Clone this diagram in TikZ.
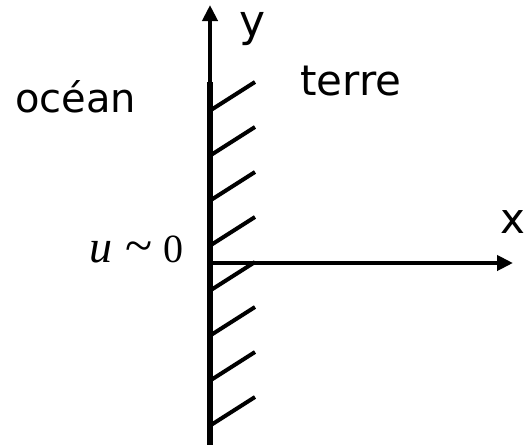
\documentclass[tikz,border=0pt]{standalone}
\usepackage{fontspec}
\setmainfont{DejaVu Sans}
\newfontfamily\serifmath{Liberation Serif}
\usetikzlibrary{arrows.meta}
\begin{document}
\begin{tikzpicture}[x=1pt,y=-1pt,
  lbl/.style={inner sep=0pt,font=\fontsize{40}{44}\selectfont},
  axis/.style={line width=4pt,-{Triangle[length=16pt,width=15pt]}},
  wall/.style={line width=6.5pt},
  hatch/.style={line width=4pt}]
\useasboundingbox (0,0) rectangle (525,445);
\coordinate (o) at (210,263);
\coordinate (wtop) at (210,82);
\coordinate (wbot) at (210,445);
\coordinate (ytip) at (210,5);
\coordinate (xtip) at (513,263);
\draw[wall] (wtop) -- (wbot);
\draw[axis] (wtop) -- (ytip);
\draw[axis] (208,263) -- (xtip);
\foreach \y in {110,155,200,245,290,335,380,425}{
  \draw[hatch] (211,\y) -- (255,\y-28);
}
\node[lbl,anchor=base west] (ocean) at (15,112) {océan};
\node[lbl,anchor=base west,font=\fontsize{42}{46}\selectfont] (terre) at (300,95) {terre};
\node[lbl,anchor=base west,font=\fontsize{44}{48}\selectfont] (ylab) at (239,36) {y};
\node[lbl,anchor=base west,font=\fontsize{42}{46}\selectfont] (xlab) at (500,233) {x};
\node[lbl,anchor=base east,font=\serifmath\fontsize{40}{44}\selectfont] (u0) at (184,262) {{\fontsize{46}{50}\selectfont\textit{u}}\hspace{13pt}{\fontsize{50}{54}\selectfont\textasciitilde}\hspace{11pt}0};
\end{tikzpicture}
\end{document}
